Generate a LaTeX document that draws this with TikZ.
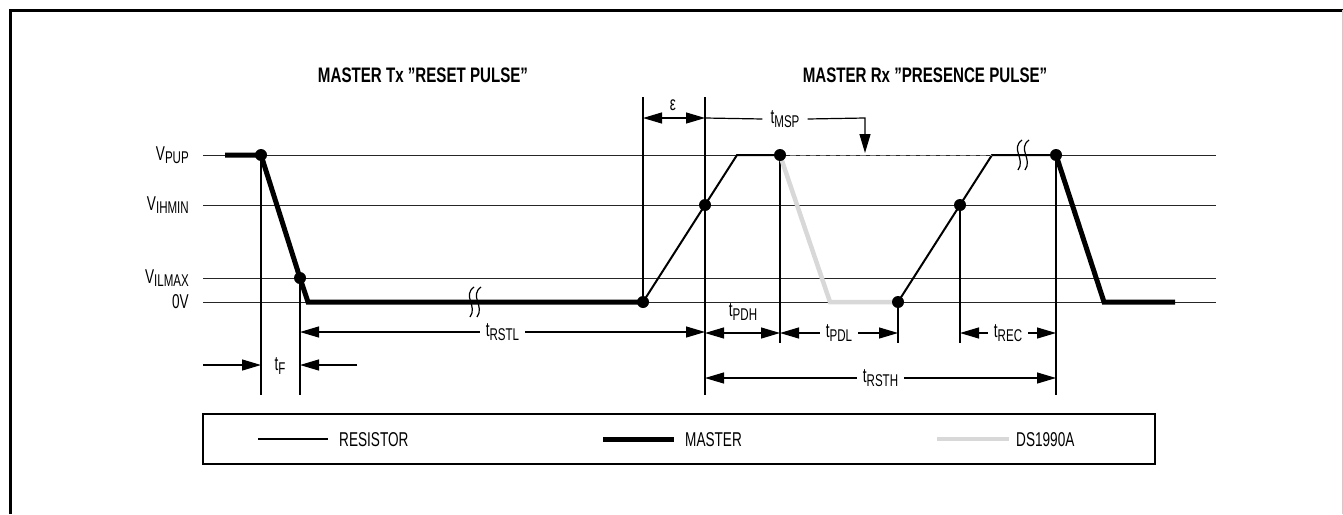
\documentclass[tikz,border=0pt]{standalone}
\usepackage{fontspec}
\setmainfont{Liberation Sans}[FakeStretch=0.68, BoldFeatures={FakeStretch=0.72}]
\usetikzlibrary{arrows.meta}
\definecolor{dsgray}{RGB}{216,216,216}
\newcommand\lo[1]{\raisebox{-3.5pt}{\fontsize{17}{17}\selectfont #1}}
\begin{document}
\begin{tikzpicture}[x=1pt,y=-1pt,
  gridline/.style={line width=1pt, black!85},
  vline/.style={line width=1.1pt},
  master/.style={line width=5pt},
  res/.style={line width=2pt},
  ds/.style={line width=4.5pt, dsgray},
  dot/.style={circle, fill=black, inner sep=0pt, minimum size=12pt},
  tip/.style={-{Triangle[length=19pt,width=11pt]}},
  dim/.style={line width=1.2pt, {Triangle[length=19pt,width=11pt]}-{Triangle[length=19pt,width=11pt]}},
  lbl/.style={font=\fontsize{20}{20}\selectfont, inner sep=1pt},
  ttl/.style={font=\bfseries\fontsize{21}{21}\selectfont, inner sep=1pt},
  gap/.style={lbl, fill=white, inner xsep=6pt, inner ysep=2pt},
  brk/.style={line width=1.2pt}
]
\useasboundingbox (0,0) rectangle (1343,514);
% frame
\draw[line width=3pt] (10,514) -- (10,10) -- (1343,10);
\draw[line width=1pt, black!20] (1342,10) -- (1342,514);

% titles
\node[ttl] (t1) at (423,75) {MASTER Tx \symbol{34}RESET PULSE\symbol{34}};
\node[ttl] (t2) at (925,75) {MASTER Rx \symbol{34}PRESENCE PULSE\symbol{34}};

% level labels
\node[lbl, anchor=east] (lp) at (190,155) {V\lo{PUP}};
\node[lbl, anchor=east] (lih) at (190,205) {V\lo{IHMIN}};
\node[lbl, anchor=east] (lil) at (190,278) {V\lo{ILMAX}};
\node[lbl, anchor=east] (l0) at (190,302) {0V};

% level lines
\coordinate (gpL) at (203,155); \coordinate (gpR) at (1216,155);
\coordinate (gihL) at (203,205); \coordinate (gihR) at (1216,205);
\coordinate (gilL) at (203,278); \coordinate (gilR) at (1216,278);
\coordinate (g0L) at (203,302); \coordinate (g0R) at (1216,302);
\draw[gridline] (gpL) -- (gpR);
\draw[gridline] (gihL) -- (gihR);
\draw[gridline] (gilL) -- (gilR);
\draw[gridline] (g0L) -- (g0R);

% key points
\coordinate (p1) at (261,155);
\coordinate (p2) at (300,278);
\coordinate (p3) at (643,302);
\coordinate (p4) at (705,205);
\coordinate (p5) at (780,155);
\coordinate (p6) at (898,302);
\coordinate (p7) at (960,205);
\coordinate (p8) at (1056,155);

% vertical lines
\coordinate (v1) at (261,395);
\coordinate (v2) at (300,395);
\coordinate (v3) at (643,97);
\coordinate (v4t) at (705,97);
\coordinate (v4b) at (705,395);
\coordinate (v5) at (780,343);
\coordinate (v6) at (898,343);
\coordinate (v7) at (960,343);
\coordinate (v8) at (1056,395);
\draw[vline] (p1) -- (v1);
\draw[vline] (p2) -- (v2);
\draw[vline] (v3) -- (p3);
\draw[vline] (v4t) -- (v4b);
\draw[vline] (p5) -- (v5);
\draw[vline] (p6) -- (v6);
\draw[vline] (p7) -- (v7);
\draw[vline] (p8) -- (v8);

% waveforms
\coordinate (m0) at (225,155);
\coordinate (m3) at (308,302);
\draw[master] (m0) -- (p1) -- (p2) -- (m3) -- (p3);
\coordinate (r1) at (737,155);
\draw[res] (p3) -- (p4) -- (r1) -- (p5);
\coordinate (s1) at (830,302);
\draw[ds] (p5) -- (s1) -- (p6);
\coordinate (r2) at (992,155);
\draw[res] (p6) -- (p7) -- (r2) -- (p8);
\coordinate (m4) at (1104,302);
\coordinate (m5) at (1175,302);
\draw[master] (p8) -- (m4) -- (m5);
\draw[line width=1pt, black!55, dash pattern=on 6pt off 4pt] (p5) -- (r2);

% break symbols
\foreach \bx/\by in {468/302, 1016/155}{
  \draw[brk] (\bx+6,\by-15) .. controls (\bx-6,\by-6) and (\bx+10,\by+4) .. (\bx+2,\by+15);
  \draw[brk] (\bx+13,\by-15) .. controls (\bx+1,\by-6) and (\bx+17,\by+4) .. (\bx+9,\by+15);
}

% dots
\foreach \p in {p1,p2,p3,p4,p5,p6,p7,p8}{ \node[dot] at (\p) {}; }

% epsilon and tMSP
\coordinate (eL) at (643,118);
\coordinate (eR) at (705,118);
\draw[dim] (eL) -- (eR);
\node[lbl] (eps) at (673,105) {ε};
\node[lbl, inner xsep=8pt] (tmsp) at (785,119) {t\lo{MSP}};
\coordinate (mk) at (865,118);
\coordinate (mkt) at (865,153);
\draw[line width=1.2pt] (eR) -- (tmsp.west);
\draw[line width=1.2pt, tip] (tmsp.east) -- (mk) -- (mkt);

% tRSTL
\coordinate (a1) at (300,332);
\coordinate (a2) at (705,332);
\draw[dim] (a1) -- node[gap] (trstl) {t\lo{RSTL}} (a2);

% tF
\coordinate (f1) at (203,365);
\coordinate (f2) at (261,365);
\coordinate (f3) at (357,365);
\coordinate (f4) at (300,365);
\draw[line width=1.2pt, tip] (f1) -- (f2);
\draw[line width=1.2pt, tip] (f3) -- (f4);
\node[lbl] (tf) at (280,366) {t\lo{F}};

% tPDH
\coordinate (h1) at (705,333);
\coordinate (h2) at (780,333);
\draw[dim] (h1) -- (h2);
\node[lbl] (tpdh) at (743,312) {t\lo{PDH}};

% tPDL
\coordinate (l1) at (780,333);
\coordinate (l2) at (898,333);
\draw[dim] (l1) -- node[gap] (tpdl) {t\lo{PDL}} (l2);

% tREC
\coordinate (c1) at (960,333);
\coordinate (c2) at (1056,333);
\draw[dim] (c1) -- node[gap] (trec) {t\lo{REC}} (c2);

% tRSTH
\coordinate (k1) at (705,378);
\coordinate (k2) at (1056,378);
\draw[dim] (k1) -- node[gap] (trsth) {t\lo{RSTH}} (k2);

% legend
\coordinate (bx1) at (203,414);
\coordinate (bx2) at (1155,464);
\draw[line width=1.5pt] (bx1) rectangle (bx2);
\coordinate (lg1a) at (258,439); \coordinate (lg1b) at (328,439);
\coordinate (lg2a) at (603,439); \coordinate (lg2b) at (674,439);
\coordinate (lg3a) at (937,439); \coordinate (lg3b) at (1009,439);
\draw[res] (lg1a) -- (lg1b);
\draw[master] (lg2a) -- (lg2b);
\draw[ds] (lg3a) -- (lg3b);
\node[lbl, anchor=west] (lt1) at (338,440) {RESISTOR};
\node[lbl, anchor=west] (lt2) at (684,440) {MASTER};
\node[lbl, anchor=west] (lt3) at (1015,440) {DS1990A};
\end{tikzpicture}
\end{document}
